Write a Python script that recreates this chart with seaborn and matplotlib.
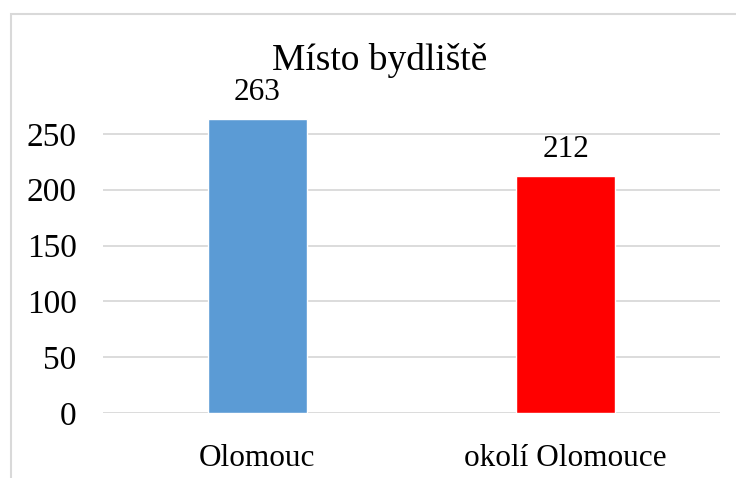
import matplotlib
matplotlib.use('Agg')
import matplotlib.pyplot as plt
import seaborn as sns
import pandas as pd
from matplotlib.patches import Rectangle

# Data
categories = ['Olomouc', 'okolí Olomouce']
counts = [263, 212]
bar_colors = ['#5B9BD5', '#FF0000']
y_ticks = [0, 50, 100, 150, 200, 250]

sns.set_style('white')
plt.rcParams['font.family'] = ['Liberation Serif', 'DejaVu Serif']
plt.rcParams['text.color'] = 'black'
plt.rcParams['xtick.color'] = 'black'
plt.rcParams['ytick.color'] = 'black'

df = pd.DataFrame({'Místo': categories, 'Počet': counts})

fig = plt.figure(figsize=(7.36, 4.78), dpi=100)
ax = fig.add_axes([103 / 736, 1 - 413 / 478, 617 / 736, 335 / 478])

sns.barplot(data=df, x='Místo', y='Počet', hue='Místo', palette=bar_colors,
            width=0.32, legend=False, ax=ax, saturation=1)

ax.set_ylim(0, 300)
ax.set_yticks(y_ticks)
ax.yaxis.grid(True, color='#D9D9D9', linewidth=1.3)
ax.set_axisbelow(True)
for s in ax.spines.values():
    s.set_visible(False)
ax.tick_params(axis='y', length=0, pad=19, labelsize=24)
ax.tick_params(axis='x', length=0, pad=22, labelsize=22.5)
ax.set_xlabel('')
ax.set_ylabel('')

for i, v in enumerate(counts):
    ax.annotate(str(v), (i, v), xytext=(0, 9), textcoords='offset points',
                ha='center', va='bottom', fontsize=22.5)

fig.text(380 / 736, 1 - 60 / 478, 'Místo bydliště', ha='center', va='center', fontsize=27)

# outer chart border
fig.patches.append(Rectangle((11 / 736, -0.1), 1.2, 1 - 14 / 478 + 0.1,
                             transform=fig.transFigure, fill=False,
                             edgecolor='#D9D9D9', linewidth=1.5))

fig.savefig('out.png', dpi=100)
